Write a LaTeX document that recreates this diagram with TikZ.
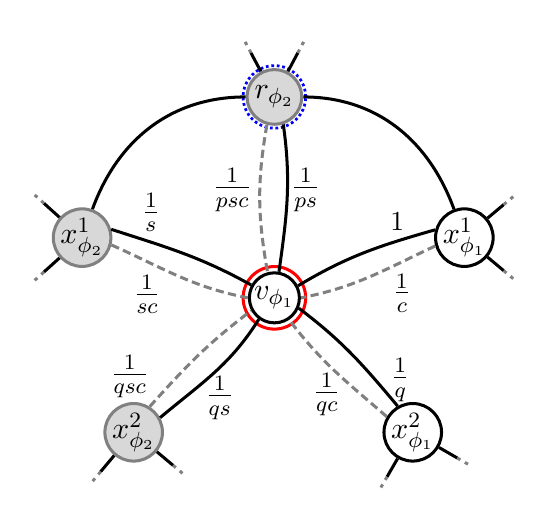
\documentclass[tikz,border=0pt]{standalone}
\usepackage{tikz}
\usetikzlibrary{calc}
\definecolor{soft}{RGB}{128,128,128}
\definecolor{shade}{RGB}{216,216,216}
\tikzset{
  vtx/.style={circle, draw=black, fill=white, line width=1.1pt, minimum size=0.70cm,
              inner sep=0pt, font=\fontsize{11}{13}\selectfont},
  gvtx/.style={vtx, draw=soft, fill=shade},
  weak/.style={soft, dash pattern=on 3pt off 1.6pt},
  stubdot/.style={soft, dash pattern=on 1.3pt off 1.9pt},
  lbl/.style={font=\large},
}

\begin{document}
\begin{tikzpicture}[line width=1.1pt]
  \useasboundingbox (-3.51,-2.89) rectangle (3.50,3.81);

  % ---------- ring round v ----------
  \draw[red] (0,0) circle (0.40);

  % ---------- vertices ----------
  \node[vtx, minimum size=0.64cm] (v) at (0,0) {$v_{\phi_1}$};
  \node[gvtx] (r)   at (0,2.57)      {$r_{\phi_2}$};
  \node[gvtx] (x12) at (-2.46,0.77)  {$x^1_{\phi_2}$};
  \node[vtx]  (x11) at (2.43,0.77)   {$x^1_{\phi_1}$};
  \node[gvtx] (x22) at (-1.80,-1.72) {$x^2_{\phi_2}$};
  \node[vtx]  (x21) at (1.77,-1.72)  {$x^2_{\phi_1}$};
  \draw[blue, line width=1pt, densely dotted] (r) circle (0.40);

  % ---------- outer arcs ----------
  \draw (r) to[out=180, in=70] (x12);
  \draw (r) to[out=0, in=110] (x11);

  % ---------- edges into v (solid / dashed pairs) ----------
  \draw (r.-72) to[out=-82, in=82] (v.80);
  \draw[weak] (r.255) to[out=-100, in=100] (v.105);
  \draw (x12.16) to[out=-18, in=151] (v.151);
  \draw[weak] (x12.-14) to[out=-24, in=169] (v.180);
  \draw (x11.165) to[out=196, in=31] (v.27);
  \draw[weak] (x11.196) to[out=205, in=11] (v.0);
  \draw (x22.29) to[out=40, in=238] (v.234);
  \draw[weak] (x22.58) to[out=48, in=217] (v.209);
  \draw (x21.120) to[out=130, in=-37] (v.-23);
  \draw[weak] (x21.149) to[out=139, in=-53] (v.-56);

  % ---------- half edges ----------
  \foreach \n/\a in {r/118, r/62, x12/138, x12/222, x11/40, x11/-40,
                     x22/230, x22/320, x21/240, x21/330}{
    \draw (\n.\a) -- ++(\a:0.27) coordinate (tip);
    \draw[stubdot] (tip) -- ++(\a:0.22);
  }

  % ---------- weights ----------
  \node[lbl] (wpsc) at (-0.54,1.38) {$\frac{1}{psc}$};
  \node[lbl] (wps)  at (0.40,1.38)  {$\frac{1}{ps}$};
  \node[lbl] (ws)   at (-1.58,1.09) {$\frac{1}{s}$};
  \node[lbl] (wsc)  at (-1.63,0.04) {$\frac{1}{sc}$};
  \node (wone)      at (1.57,0.97)  {$1$};
  \node[lbl] (wc)   at (1.63,0.06)  {$\frac{1}{c}$};
  \node[lbl] (wqsc) at (-1.85,-1.01) {$\frac{1}{qsc}$};
  \node[lbl] (wqs)  at (-0.70,-1.28) {$\frac{1}{qs}$};
  \node[lbl] (wqc)  at (0.67,-1.24)  {$\frac{1}{qc}$};
  \node[lbl] (wq)   at (1.61,-1.05)  {$\frac{1}{q}$};
\end{tikzpicture}
\end{document}
